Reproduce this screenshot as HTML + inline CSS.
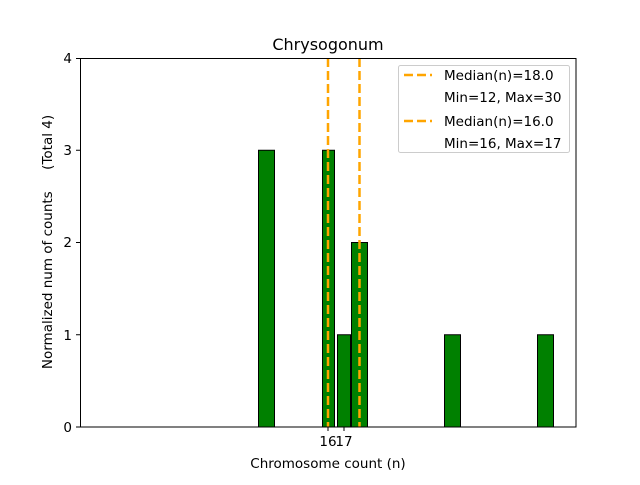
<!DOCTYPE html><html><head><style>body{margin:0;background:#fff}text{white-space:pre}</style></head><body>
<svg width="640" height="480" xmlns="http://www.w3.org/2000/svg" font-family="DejaVu Sans, Liberation Sans, sans-serif">
<rect width="640" height="480" fill="#fff"/>
<g fill="#008000" stroke="#000" stroke-width="1">
<rect x="258.5" y="150.25" width="16" height="276.75"/>
<rect x="322.5" y="150.25" width="12" height="276.75"/>
<rect x="337.5" y="334.75" width="13" height="92.25"/>
<rect x="351.5" y="242.5" width="16" height="184.5"/>
<rect x="444.5" y="334.75" width="16" height="92.25"/>
<rect x="537.5" y="334.75" width="16" height="92.25"/>
</g>
<g stroke="#ffa500" stroke-width="2.5" stroke-dasharray="9,4">
<line x1="328" y1="58" x2="328" y2="427"/>
<line x1="359.5" y1="58" x2="359.5" y2="427"/>
</g>
<rect x="80.5" y="58.5" width="495.5" height="368.5" fill="none" stroke="#000"/>
<g stroke="#000"><line x1="76" y1="427" x2="80" y2="427"/><line x1="76" y1="334.75" x2="80" y2="334.75"/><line x1="76" y1="242.5" x2="80" y2="242.5"/><line x1="76" y1="150.25" x2="80" y2="150.25"/><line x1="76" y1="58.5" x2="80" y2="58.5"/>
<line x1="328" y1="427" x2="328" y2="431"/><line x1="344" y1="427" x2="344" y2="431"/></g>
<g font-size="13.5" text-anchor="end"><text x="72" y="432">0</text><text x="72" y="340">1</text><text x="72" y="247">2</text><text x="72" y="155">3</text><text x="72" y="63">4</text></g>
<g font-size="13.5" text-anchor="middle"><text x="328" y="446">16</text><text x="344" y="446">17</text>
<text x="328" y="468">Chromosome count (n)</text></g>
<text x="328" y="50" font-size="16" text-anchor="middle">Chrysogonum</text>
<text transform="translate(52,242) rotate(-90)" font-size="13.5" text-anchor="middle" xml:space="preserve">Normalized num of counts     (Total 4)</text>
<rect x="398.5" y="65.5" width="171" height="87" rx="2" fill="#fff" stroke="#ccc"/>
<g stroke="#ffa500" stroke-width="2.5" stroke-dasharray="9,4"><line x1="404" y1="75" x2="432" y2="75"/><line x1="404" y1="121" x2="432" y2="121"/></g>
<g font-size="13.5"><text x="444" y="80">Median(n)=18.0</text><text x="444" y="102">Min=12, Max=30</text><text x="444" y="126">Median(n)=16.0</text><text x="444" y="148">Min=16, Max=17</text></g>
</svg></body></html>
